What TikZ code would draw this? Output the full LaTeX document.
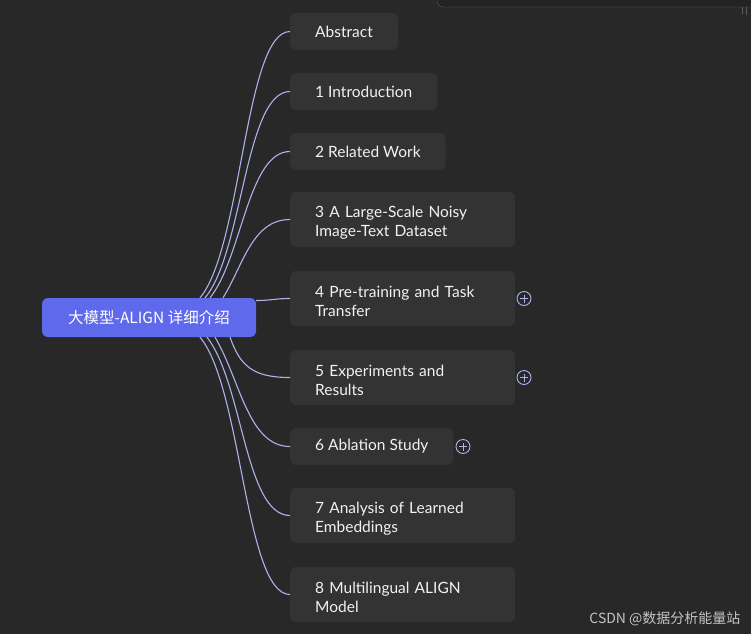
\documentclass[tikz,border=0pt]{standalone}
\usepackage{fontspec}
\setmainfont{Lato}
\newfontfamily\cjk{Noto Sans CJK SC}
\usetikzlibrary{calc}
\definecolor{canvas}{HTML}{282828}
\definecolor{panel}{HTML}{232323}
\definecolor{panelline}{HTML}{5C5C5C}
\definecolor{card}{HTML}{333333}
\definecolor{ink}{HTML}{F2F2F2}
\definecolor{rootfill}{HTML}{5F69EB}
\definecolor{lavender}{HTML}{AEB2EC}
\definecolor{muted}{HTML}{C4C4C4}
\tikzset{
  topic/.style={fill=card,rounded corners=6pt,text=ink,anchor=west,align=left,
    inner xsep=25pt,inner ysep=0pt,minimum height=37pt,font=\fontsize{15.5}{19}\selectfont},
  twoline/.style={minimum height=55pt,text width=175pt,
    execute at begin node={\rule{0pt}{17pt}}},
  rootnode/.style={fill=rootfill,rounded corners=6pt,text=white,minimum width=214pt,
    minimum height=39pt,inner sep=0pt,font=\cjk\fontsize{15.5}{19}\selectfont},
  link/.style={draw=lavender,line width=1.1pt},
  expand/.style={circle,draw=lavender,line width=.9pt,minimum size=14pt,inner sep=0pt,
    path picture={\draw[lavender,line width=.9pt]
      (path picture bounding box.center) ++(-4pt,0) -- ++(8pt,0)
      (path picture bounding box.center) ++(0,-4pt) -- ++(0,8pt);}},
}
\begin{document}
\begin{tikzpicture}[x=1pt,y=-1pt]
  \useasboundingbox (0,0) rectangle (751,634);
  \fill[canvas] (0,0) rectangle (751,634);
  % window edge at the top right
  \draw[panelline,fill=panel,rounded corners=6pt] (437,-12) rectangle (770,7);
  \draw[panelline,line width=.8pt] (742,7) -- (742,14) (746,7) -- (746,15);

  \node[rootnode] (root) at (149,317.5) {大模型-ALIGN 详细介绍};

  \node[topic] (abs) at (290,31.5) {Abstract};
  \node[topic] (intro) at (290,91.5) {1 Introduction};
  \node[topic] (related) at (290,151.5) {2 Related Work};
  \node[topic,twoline] (dataset) at (290,219.5) {3 A Large-Scale Noisy\\Image-Text Dataset};
  \node[topic,twoline] (pretrain) at (290,298.5) {4 Pre-training and Task\\Transfer};
  \node[topic,twoline] (exper) at (290,377.5) {5 Experiments and\\Results};
  \node[topic] (ablation) at (290,446.5) {6 Ablation Study};
  \node[topic,twoline] (embed) at (290,515.5) {7 Analysis of Learned\\Embeddings};
  \node[topic,twoline] (multi) at (290,594.5) {8 Multilingual ALIGN\\Model};

  \node[expand] (pretrainplus) at (524,298.5) {};
  \node[expand] (experplus) at (524,377.5) {};
  \node[expand] (ablationplus) at (463,446.5) {};

  % branches
  \draw[link] ([xshift=51pt]root.north) .. controls +(42,-50) and +(-45,0) .. (abs.west);
  \draw[link] ([xshift=56pt]root.north) .. controls +(38,-45) and +(-45,0) .. (intro.west);
  \draw[link] ([xshift=61pt]root.north) .. controls +(32,-40) and +(-42,0) .. (related.west);
  \draw[link] ([xshift=74pt]root.north) .. controls +(20,-32) and +(-38,0) .. (dataset.west);
  \draw[link] ([yshift=17pt]root.east) .. controls +(15,0) and +(-15,0) .. (pretrain.west);
  \draw[link] ([xshift=81pt]root.south) .. controls +(10,28) and +(-38,0) .. (exper.west);
  \draw[link] ([xshift=66pt]root.south) .. controls +(25,42) and +(-42,0) .. (ablation.west);
  \draw[link] ([xshift=58pt]root.south) .. controls +(36,46) and +(-45,0) .. (embed.west);
  \draw[link] ([xshift=51pt]root.south) .. controls +(42,50) and +(-45,0) .. (multi.west);

  \node[anchor=east,text=muted,font=\cjk\fontsize{14}{16}\selectfont] (mark) at (744,619) {CSDN @数据分析能量站};
\end{tikzpicture}
\end{document}
